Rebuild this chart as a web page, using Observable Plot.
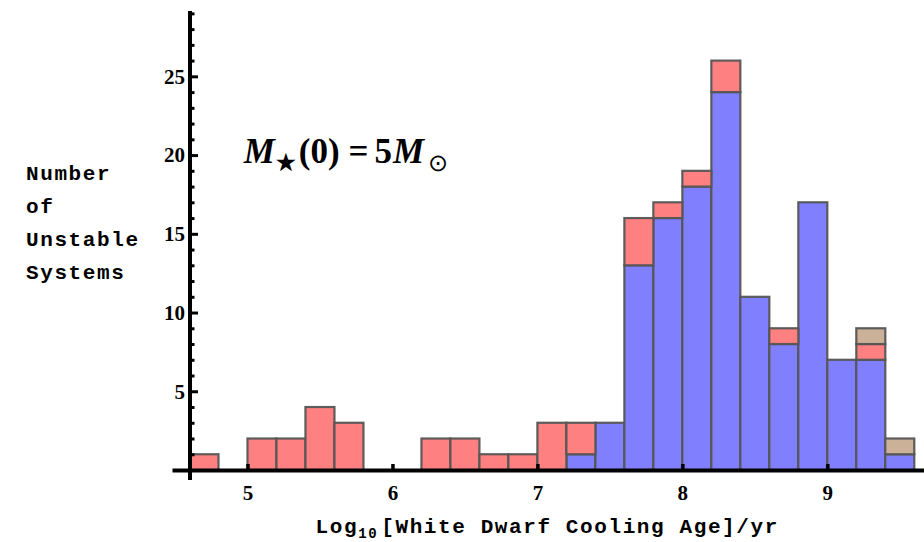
<!DOCTYPE html>
<html>
<head>
<meta charset="utf-8">
<script src="https://cdn.jsdelivr.net/npm/d3@7"></script>
<script src="https://cdn.jsdelivr.net/npm/@observablehq/plot@0.6"></script>
<style>
  html, body { margin: 0; padding: 0; background: #fff; }
  #chart svg { display: block; }
</style>
</head>
<body>
<div id="chart"></div>
<script>
// Bin edges (log10 cooling age), 25 bins of width 0.2
const binLo = [4.6, 4.8, 5.0, 5.2, 5.4, 5.6, 5.8, 6.0, 6.2, 6.4, 6.6, 6.8, 7.0, 7.2, 7.4, 7.6, 7.8, 8.0, 8.2, 8.4, 8.6, 8.8, 9.0, 9.2, 9.4];
const binHi = [4.8, 5.0, 5.2, 5.4, 5.6, 5.8, 6.0, 6.2, 6.4, 6.6, 6.8, 7.0, 7.2, 7.4, 7.6, 7.8, 8.0, 8.2, 8.4, 8.6, 8.8, 9.0, 9.2, 9.4, 9.6];

// Series counts per bin (stacked bottom to top)
const seriesNames = ["series A", "series B", "series C"];
const seriesColors = ["#8080ff", "#ff8080", "#cbb197"];
const countsA = [0, 0, 0, 0, 0, 0, 0, 0, 0, 0, 0, 0, 0, 1, 3, 13, 16, 18, 24, 11, 8, 17, 7, 7, 1];
const countsB = [1, 0, 2, 2, 4, 3, 0, 0, 2, 2, 1, 1, 3, 2, 0, 3, 1, 1, 2, 0, 1, 0, 0, 1, 0];
const countsC = [0, 0, 0, 0, 0, 0, 0, 0, 0, 0, 0, 0, 0, 0, 0, 0, 0, 0, 0, 0, 0, 0, 0, 1, 1];

// Axis ticks
const xTicks = [5, 6, 7, 8, 9];
const yMajorTicks = [5, 10, 15, 20, 25];
const yMinorTicks = [1, 2, 3, 4, 6, 7, 8, 9, 11, 12, 13, 14, 16, 17, 18, 19, 21, 22, 23, 24, 26, 27, 28, 29];

// Texts
const xLabel = "Log10[White Dwarf Cooling Age]/yr";
const yLabel = "Number\nof\nUnstable\nSystems";
const annotation = "M★(0) = 5M⊙";

// Build tidy table
const seriesCounts = [countsA, countsB, countsC];
const table = [];
seriesNames.forEach((s, si) => {
  binLo.forEach((lo, i) => {
    const c = seriesCounts[si][i];
    if (c > 0) table.push({lo, hi: binHi[i], count: c, series: s});
  });
});

const W = 924, H = 542, ML = 189.5, MR = 0, MT = 11, MB = 72;
const frameW = W - ML - MR, frameH = H - MT - MB;

const serif = "'Liberation Serif', 'Times New Roman', serif";
const mono = "'Liberation Mono', 'DejaVu Sans Mono', monospace";

const chart = Plot.plot({
  width: W,
  height: H,
  marginLeft: ML,
  marginRight: MR,
  marginTop: MT,
  marginBottom: MB,
  x: {domain: [4.6, 9.667], axis: null},
  y: {domain: [0, 29.15], axis: null},
  color: {type: "ordinal", domain: seriesNames, range: seriesColors},
  marks: [
    Plot.rectY(table, {
      x1: "lo", x2: "hi", y: "count", fill: "series",
      order: seriesNames,
      stroke: "#555", strokeWidth: 2.2, strokeOpacity: 0.95
    }),
    // y axis line & ticks
    Plot.ruleY(yMinorTicks, {stroke: "black", strokeWidth: 3, insetRight: frameW - 5}),
    Plot.ruleY(yMajorTicks, {stroke: "black", strokeWidth: 3, insetRight: frameW - 8.5}),
    Plot.ruleX([4.6], {stroke: "black", strokeWidth: 4, insetBottom: -10}),
    // x axis line & ticks
    Plot.ruleX(xTicks, {stroke: "black", strokeWidth: 3.5, insetTop: frameH - 6}),
    Plot.ruleY([0], {stroke: "black", strokeWidth: 4, insetLeft: -17}),
    // tick labels
    Plot.axisY({ticks: yMajorTicks, tickSize: 0, tickPadding: 5, label: null, tickFormat: d3.format("d"),
      fontFamily: serif, fontSize: 21, fontWeight: "bold"}),
    Plot.axisX({ticks: xTicks, tickSize: 0, tickPadding: 15, label: null, tickFormat: d3.format("d"),
      fontFamily: serif, fontSize: 21, fontWeight: "bold"}),
    // axis labels
    Plot.text([xLabel], {frameAnchor: "bottom", dy: 56, dx: -10, lineAnchor: "middle",
      textAnchor: "middle", fontFamily: mono, fontSize: 21, fontWeight: "bold"}),
    Plot.text([yLabel], {frameAnchor: "left", y: 19.95, dx: -164, textAnchor: "start",
      lineAnchor: "top", lineHeight: 1.57, fontFamily: mono, fontSize: 21, fontWeight: "bold"}),
    // annotation
    Plot.text([annotation], {x: 4.97, y: 20.25, textAnchor: "start", lineAnchor: "middle",
      fontFamily: serif, fontSize: 35, fontWeight: "bold"})
  ]
});

document.getElementById("chart").appendChild(chart);

const svg = d3.select(chart);
svg.style("font-family", serif);

// x label with subscript
svg.selectAll("text").filter(function() { return this.textContent === xLabel; }).each(function() {
  const t = d3.select(this);
  t.text(null).attr("letter-spacing", "1.6px");
  t.append("tspan").text("Log");
  t.append("tspan").attr("font-size", 14).attr("dy", 5).text("10");
  t.append("tspan").attr("dy", -5).attr("dx", 3).text("[White Dwarf Cooling Age]/yr");
});

// y label letter spacing
svg.selectAll("text").filter(function() { return this.textContent.replace(/\s/g, "") === yLabel.replace(/\s/g, ""); })
  .attr("letter-spacing", "1.6px");

// annotation typesetting
svg.selectAll("text").filter(function() { return this.textContent === annotation; }).each(function() {
  const t = d3.select(this);
  t.text(null);
  t.append("tspan").attr("font-style", "italic").text("M");
  t.append("tspan").attr("font-size", 22).attr("dy", 7).attr("dx", 1).text("★");
  t.append("tspan").attr("dy", -7).attr("dx", 3).text("(0)");
  t.append("tspan").attr("dx", 9).text("=");
  t.append("tspan").attr("dx", 6).text("5");
  t.append("tspan").attr("dx", 1).attr("font-style", "italic").text("M");
  t.append("tspan").attr("font-size", 24).attr("dy", 8).attr("dx", 4).attr("font-weight", "normal").text("⊙");
});
</script>
</body>
</html>
